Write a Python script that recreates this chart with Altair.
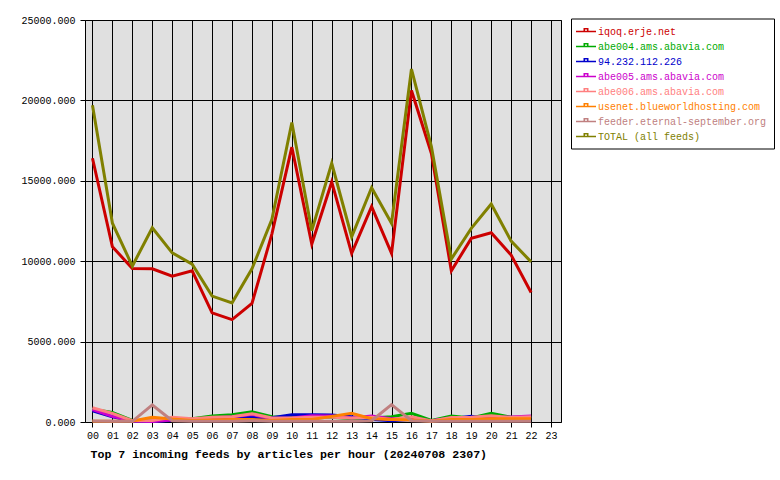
import altair as alt
import pandas as pd

hours = list(range(23))
tick_hours = list(range(24))
y_ticks = [0, 5000, 10000, 15000, 20000, 25000]

feeds = [
    "iqoq.erje.net",
    "abe004.ams.abavia.com",
    "94.232.112.226",
    "abe005.ams.abavia.com",
    "abe006.ams.abavia.com",
    "usenet.blueworldhosting.com",
    "feeder.eternal-september.org",
    "TOTAL (all feeds)",
]
colors = ["#cc0000", "#00aa00", "#0000cc", "#cc00cc", "#ff8080", "#ff8000", "#c08080", "#808000"]

iqoq = [16400, 10900, 9550, 9530, 9070, 9400, 6790, 6370, 7370, 11700, 17090, 11070,
        14930, 10490, 13390, 10490, 20620, 16700, 9400, 11420, 11770, 10380, 8050]
abe004 = [800, 600, 100, 60, 150, 200, 370, 450, 640, 330, 300, 250,
          300, 200, 250, 330, 540, 100, 370, 250, 540, 300, 300]
ip94 = [700, 330, 50, 30, 100, 150, 200, 250, 300, 270, 450, 450,
        430, 320, 150, 80, 150, 80, 200, 350, 150, 150, 200]
abe005 = [780, 350, 60, 30, 120, 150, 250, 320, 470, 200, 250, 390,
          370, 250, 370, 200, 200, 80, 250, 200, 280, 310, 370]
abe006 = [890, 540, 80, 100, 300, 200, 290, 320, 515, 250, 250, 300,
          300, 250, 300, 150, 330, 60, 280, 300, 390, 280, 320]
usenet = [50, 50, 60, 290, 180, 100, 120, 150, 150, 100, 150, 150,
          350, 540, 200, 150, 120, 50, 150, 150, 200, 200, 200]
feeder = [60, 50, 40, 1060, 80, 50, 50, 50, 80, 50, 50, 50,
          50, 50, 80, 1080, 80, 40, 50, 50, 50, 50, 50]
total = [19700, 12360, 9700, 12080, 10520, 9820, 7830, 7410, 9530, 12600, 18630, 11900,
         16090, 11520, 14570, 12360, 21950, 17130, 10140, 12040, 13560, 11250, 9960]

series = [iqoq, abe004, ip94, abe005, abe006, usenet, feeder, total]

rows = []
for name, vals in zip(feeds, series):
    for h, v in zip(hours, vals):
        rows.append({"hour": h, "feed": name, "articles": v})
df = pd.DataFrame(rows)

color_expr = " : ".join(f"datum.label === '{n}' ? '{c}'" for n, c in zip(feeds, colors)) + " : 'black'"

FONT = "Liberation Mono"

chart = alt.Chart(df).mark_line(strokeWidth=3).encode(
    x=alt.X(
        "hour:Q",
        scale=alt.Scale(domain=[-0.375, 23.5], nice=False, zero=False),
        axis=alt.Axis(
            values=tick_hours,
            labelExpr="(datum.value < 10 ? '0' : '') + datum.value",
            title="Top 7 incoming feeds by articles per hour (20240708 2307)",
            titleFont=FONT,
            titleFontWeight="bold",
            titleFontSize=11.6,
            titleColor="black",
            titleAnchor="start",
            titleAlign="left",
            titleBaseline="alphabetic",
            titleX=5,
            titleY=35,
            labelFlush=False,
        ),
    ),
    y=alt.Y(
        "articles:Q",
        scale=alt.Scale(domain=[0, 25000], nice=False),
        axis=alt.Axis(values=y_ticks, format=".3f", title=None, labelPadding=5),
    ),
    color=alt.Color(
        "feed:N",
        scale=alt.Scale(domain=feeds, range=colors),
        legend=alt.Legend(
            title=None,
            orient="none",
            legendX=486,
            legendY=-1.5,
            strokeColor="black",
            fillColor="white",
            padding=7,
            symbolType="M-1.6,0H2.4M0.05,0V-0.55H0.75V0",
            symbolSize=100,
            symbolStrokeWidth=1.5,
            labelFont=FONT,
            labelFontSize=10,
            labelOffset=8,
            rowPadding=4,
            labelColor=alt.ExprRef(color_expr),
            labelLimit=400,
        ),
    ),
).properties(
    width=476,
    height=402,
    background="white",
    autosize=alt.AutoSizeParams(type="none"),
    padding={"left": 85, "top": 20, "right": 219, "bottom": 58},
).configure_view(
    fill="#e0e0e0", stroke="black", strokeWidth=1
).configure_axis(
    labelFont=FONT,
    labelFontSize=10,
    labelColor="black",
    tickColor="black",
    tickSize=5,
    labelPadding=3,
    domain=False,
    grid=True,
    gridColor="black",
    gridWidth=1,
    gridOpacity=1,
)

chart.save("out.html", embed_options={"renderer": "svg", "actions": False})
